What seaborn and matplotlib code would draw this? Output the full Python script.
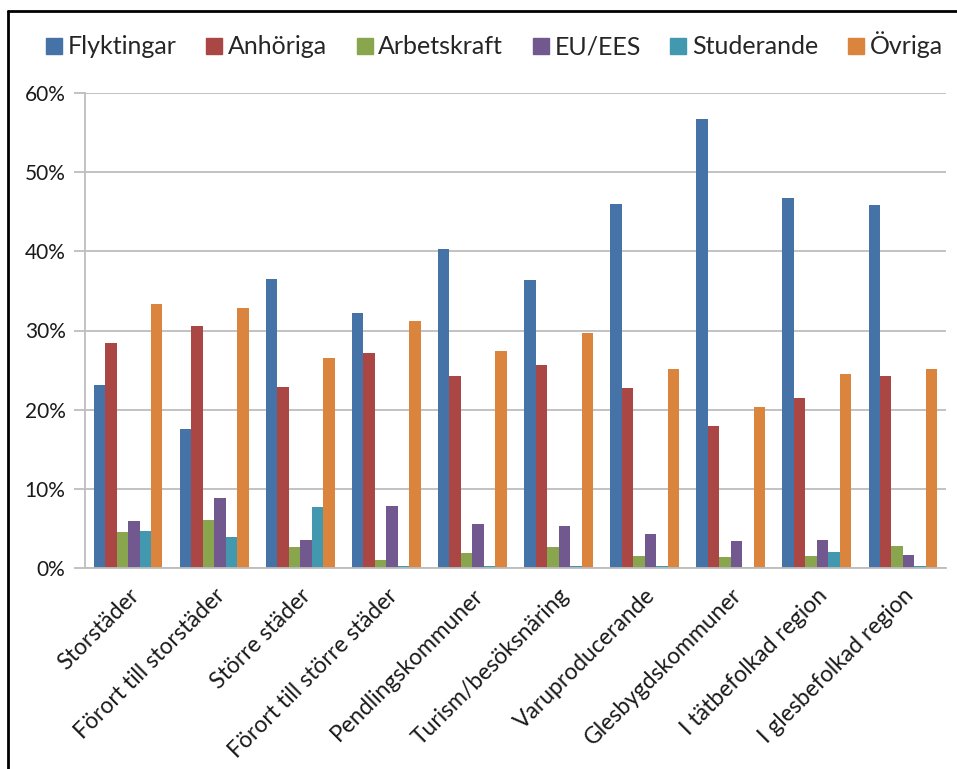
import pandas as pd
import seaborn as sns
import matplotlib.pyplot as plt
from matplotlib.lines import Line2D
from matplotlib.ticker import PercentFormatter

categories = ['Storstäder', 'Förort till storstäder', 'Större städer',
              'Förort till större städer', 'Pendlingskommuner',
              'Turism/besöksnäring', 'Varuproducerande', 'Glesbygdskommuner',
              'I tätbefolkad region', 'I glesbefolkad region']
series = ['Flyktingar', 'Anhöriga', 'Arbetskraft', 'EU/EES', 'Studerande', 'Övriga']

flyktingar = [23.1, 17.5, 36.5, 32.2, 40.3, 36.4, 46.0, 56.7, 46.8, 45.8]
anhoriga = [28.4, 30.6, 22.9, 27.2, 24.3, 25.6, 22.7, 18.0, 21.5, 24.2]
arbetskraft = [4.5, 6.1, 2.6, 1.0, 1.9, 2.6, 1.5, 1.4, 1.5, 2.8]
eu_ees = [5.9, 8.9, 3.6, 7.8, 5.6, 5.3, 4.3, 3.4, 3.5, 1.7]
studerande = [4.7, 3.9, 7.7, 0.3, 0.3, 0.3, 0.2, 0.1, 2.0, 0.2]
ovriga = [33.3, 32.8, 26.5, 31.2, 27.4, 29.7, 25.2, 20.3, 24.5, 25.2]

colors = ['#4572A7', '#AA4643', '#89A54E', '#71588F', '#4198AF', '#DB843D']

rows = []
for name, vals in zip(series, [flyktingar, anhoriga, arbetskraft, eu_ees, studerande, ovriga]):
    for cat, v in zip(categories, vals):
        rows.append({'kategori': cat, 'grupp': name, 'andel': v})
df = pd.DataFrame(rows)

sns.set_style('white')
plt.rcParams['font.family'] = ['Lato', 'DejaVu Sans']

fig = plt.figure(figsize=(9.57, 7.69), dpi=100)
ax = fig.add_axes([85 / 957, 1 - 568 / 769, (946 - 85) / 957, (568 - 93) / 769])

sns.barplot(data=df, x='kategori', y='andel', hue='grupp', palette=colors,
            order=categories, hue_order=series, width=0.8, saturation=1,
            linewidth=0, ax=ax)

ax.set_ylim(0, 60)
ax.set_xlim(-0.5, len(categories) - 0.5)
ax.set_yticks(range(0, 61, 10))
ax.yaxis.set_major_formatter(PercentFormatter(decimals=0))
ax.grid(axis='y', color='#BDBDBD', linewidth=1.3)
ax.set_axisbelow(True)
ax.set_xlabel('')
ax.set_ylabel('')

for s in ['top', 'right']:
    ax.spines[s].set_visible(False)
for s in ['left', 'bottom']:
    ax.spines[s].set_color('#BDBDBD')
    ax.spines[s].set_linewidth(1.3)

# category labels centred, ticks between groups
ax.set_xticks(range(len(categories)))
ax.set_xticklabels(categories, rotation=45, ha='right', rotation_mode='anchor',
                   fontsize=16.5, color='#1a1a1a')
ax.tick_params(axis='x', length=0, pad=12)
ax.set_xticks([i - 0.5 for i in range(len(categories) + 1)], minor=True)
ax.tick_params(axis='x', which='minor', length=8, color='#BDBDBD', width=1.3)
ax.tick_params(axis='y', length=8, color='#BDBDBD', width=1.3, pad=6,
               labelsize=15, labelcolor='#1a1a1a', left=True)

handles = [Line2D([], [], marker='s', linestyle='', markersize=11,
                  markerfacecolor=c, markeredgecolor=c) for c in colors]
ax.get_legend().remove()
fig.legend(handles, series, loc='center', bbox_to_anchor=(494 / 957, 1 - 45 / 769),
           ncol=6, frameon=False, fontsize=18, handletextpad=0.2,
           columnspacing=1.15, handlelength=0.7)

# chart frame (top and left edges visible)
fig.add_artist(Line2D([8 / 957, 8 / 957], [0, 1 - 11 / 769], transform=fig.transFigure,
                      color='black', linewidth=2))
fig.add_artist(Line2D([8 / 957, 1], [1 - 11 / 769, 1 - 11 / 769], transform=fig.transFigure,
                      color='black', linewidth=2))

fig.savefig('out.png', dpi=100, facecolor='white')
